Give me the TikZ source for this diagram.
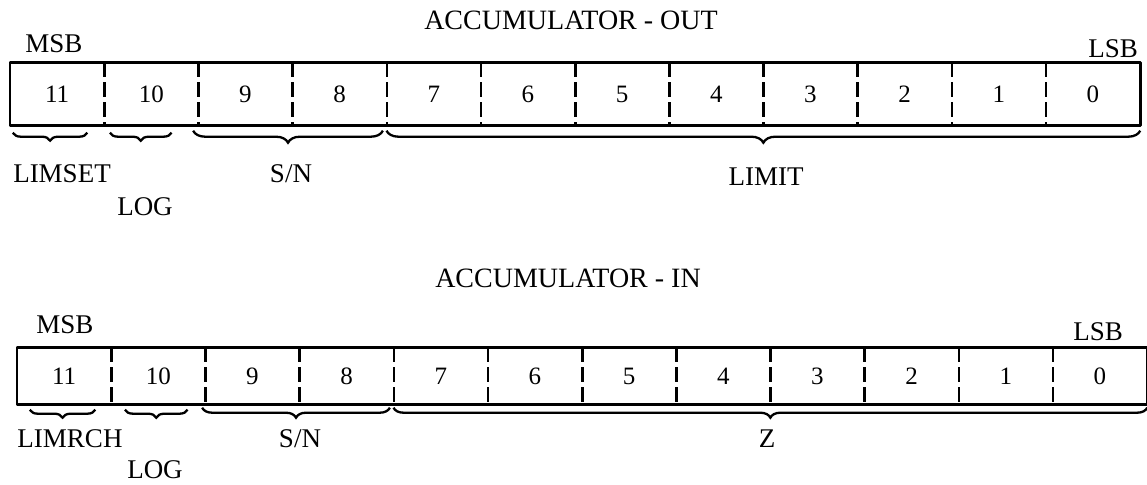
\documentclass[tikz,border=0pt]{standalone}
\usepackage{fontspec}
\setmainfont{Liberation Serif}
\usetikzlibrary{decorations.pathreplacing,positioning}

\begin{document}
\begin{tikzpicture}[x=1pt, y=-1pt,
    bit_cell/.style={rectangle, inner sep=0pt, minimum width=94.17pt, font=\fontsize{25}{27}\selectfont},
    reg_frame/.style={line width=2.6pt, line join=round},
    bit_sep/.style={line width=2.6pt, dash pattern=on 15pt off 5pt},
    field_brace/.style={decorate, decoration={brace, amplitude=#1}, line width=2.3pt},
    field_brace/.default=8pt,
    field_label/.style={anchor=base, inner sep=0pt, font=\fontsize{27}{29}\selectfont},
    reg_title/.style={anchor=base, inner sep=0pt, font=\fontsize{28}{30}\selectfont}
]
    \useasboundingbox (0,0) rectangle (1147,484);

    % accumulator - out
    \node[reg_title] (title_out) at (571,30) {ACCUMULATOR - OUT};
    \foreach \b [count=\i from 0] in {11,...,0}
        \node[bit_cell, minimum height=63pt] (out\b) at ({10+94.17*(\i+0.5)},94) {\b};
    \draw[reg_frame] (out11.north west) rectangle (out0.south east);
    \foreach \b in {11,...,1}
        \draw[bit_sep] (out\b.north east) -- (out\b.south east);
    \node[field_label] (msb_out) at (54,53) {MSB};
    \node[field_label] (lsb_out) at (1113,58) {LSB};

    \draw[field_brace] ([xshift=-17pt,yshift=-7pt]out11.south east) -- ([xshift=3pt,yshift=-7pt]out11.south west);
    \draw[field_brace] ([xshift=-27pt,yshift=-7pt]out10.south east) -- ([xshift=6pt,yshift=-7pt]out10.south west);
    \draw[field_brace=12pt] ([xshift=-4pt,yshift=-5pt]out8.south east) -- ([xshift=-5pt,yshift=-5pt]out9.south west);
    \draw[field_brace=12pt] ([yshift=-5pt]out0.south east) -- ([xshift=0pt,yshift=-5pt]out7.south west);
    \node[field_label] (limset) at (62,182) {LIMSET};
    \node[field_label] (log_out) at (145,215) {LOG};
    \node[field_label] (sn_out) at (291,182) {S/N};
    \node[field_label] (limit) at (766,185) {LIMIT};

    % accumulator - in
    \node[reg_title] (title_in) at (568,287) {ACCUMULATOR - IN};
    \foreach \b [count=\i from 0] in {11,...,0}
        \node[bit_cell, minimum height=57pt] (in\b) at ({17+94.17*(\i+0.5)},376) {\b};
    \draw[reg_frame] (in11.north west) rectangle (in0.south east);
    \foreach \b in {11,...,1}
        \draw[bit_sep] (in\b.north east) -- (in\b.south east);
    \node[field_label] (msb_in) at (65,333) {MSB};
    \node[field_label] (lsb_in) at (1098,340) {LSB};

    \draw[field_brace] ([xshift=-16pt,yshift=-5pt]in11.south east) -- ([xshift=13pt,yshift=-5pt]in11.south west);
    \draw[field_brace] ([xshift=-18pt,yshift=-5pt]in10.south east) -- ([xshift=14pt,yshift=-5pt]in10.south west);
    \draw[field_brace=10pt] ([xshift=-4pt,yshift=-3pt]in8.south east) -- ([xshift=-3pt,yshift=-3pt]in9.south west);
    \draw[field_brace=10pt] ([yshift=-3pt]in0.south east) -- ([yshift=-3pt]in7.south west);
    \node[field_label] (limrch) at (70,447) {LIMRCH};
    \node[field_label] (log_in) at (155,478) {LOG};
    \node[field_label] (sn_in) at (300,447) {S/N};
    \node[field_label] (z_field) at (767,447) {Z};
\end{tikzpicture}
\end{document}
